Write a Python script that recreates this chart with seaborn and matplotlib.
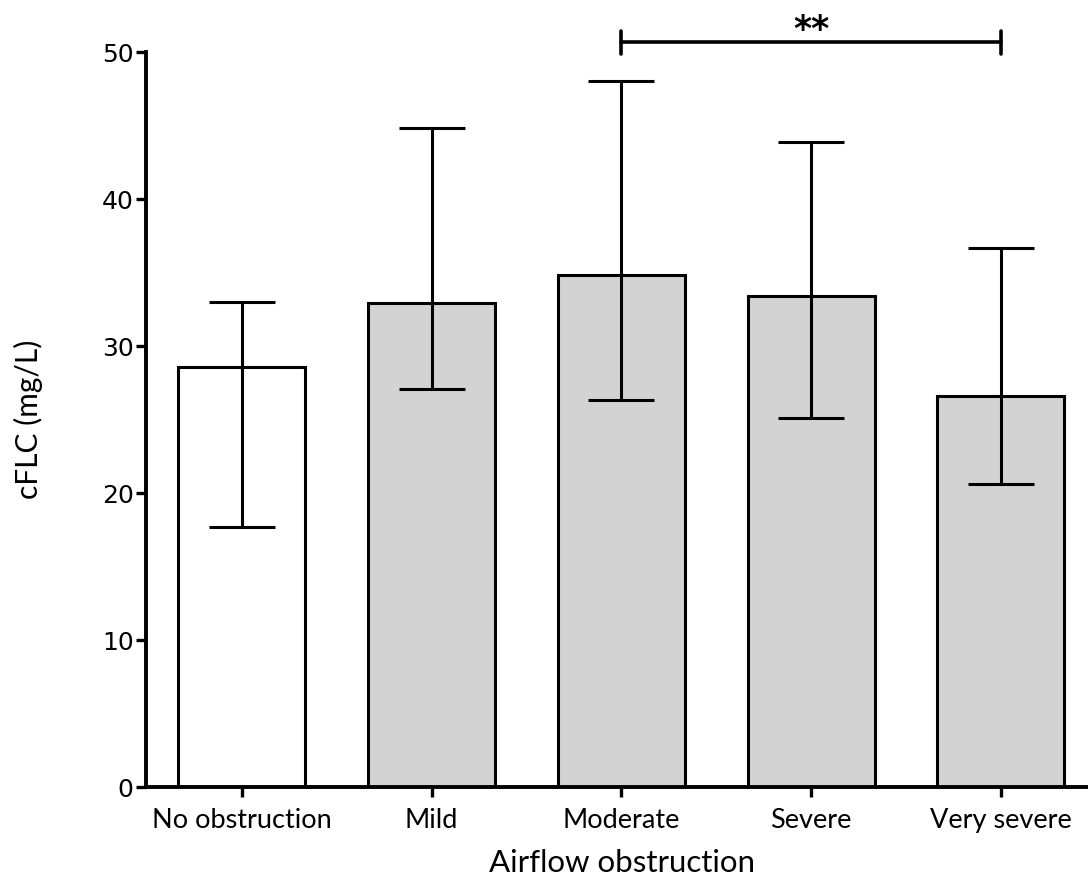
import matplotlib
matplotlib.use("Agg")
import matplotlib.pyplot as plt
import seaborn as sns
import pandas as pd
import numpy as np

# values
groups = ["No obstruction", "Mild", "Moderate", "Severe", "Very severe"]
cflc_mean = [28.6, 32.9, 34.8, 33.4, 26.6]
cflc_upper = [33.0, 44.8, 48.0, 43.9, 36.7]
cflc_lower = [17.7, 27.1, 26.3, 25.1, 20.6]
bar_colors = ["white", "lightgray", "lightgray", "lightgray", "lightgray"]

df = pd.DataFrame({"group": groups, "cflc": cflc_mean})

sns.set_style("ticks")
plt.rcParams["font.family"] = ["Lato", "DejaVu Sans"]
plt.rcParams["text.color"] = "black"
plt.rcParams["axes.labelcolor"] = "black"

fig = plt.figure(figsize=(10.88, 8.82), dpi=100)
ax = fig.add_axes([0.1342, 0.1077, 0.866, 0.8333])

sns.barplot(data=df, x="group", y="cflc", hue="group", palette=bar_colors,
            legend=False, width=0.67, edgecolor="black", linewidth=2.2,
            errorbar=None, ax=ax, zorder=2)

# asymmetric error bars
pos = np.arange(len(groups))
means = np.array(cflc_mean)
yerr = [means - np.array(cflc_lower), np.array(cflc_upper) - means]
ax.errorbar(pos, means, yerr=yerr, fmt="none", ecolor="black",
            elinewidth=2.2, capsize=24, capthick=2.2, zorder=3)

ax.set_ylim(0, 50)
ax.set_xlim(-0.505, 4.46)
ax.set_yticks([0, 10, 20, 30, 40, 50])
ax.tick_params(axis="y", labelsize=18, width=2.4, length=7, color="black",
               labelcolor="black", pad=2)
ax.tick_params(axis="x", labelsize=19.5, width=2.4, length=7, color="black",
               labelcolor="black", pad=8)
for lab in ax.get_yticklabels():
    lab.set_fontfamily("DejaVu Sans")

for side in ["top", "right"]:
    ax.spines[side].set_visible(False)
for side in ["left", "bottom"]:
    ax.spines[side].set_linewidth(2.8)
    ax.spines[side].set_color("black")

ax.set_xlabel("Airflow obstruction", fontsize=22.5, va="baseline")
ax.xaxis.set_label_coords(0.505, -0.116)
ax.set_ylabel("cFLC (mg/L)", fontsize=21.5, labelpad=42)

# significance bracket Moderate vs Very severe
yb = 50.68
ax.plot([2, 4], [yb, yb], color="black", lw=2.6, clip_on=False)
ax.plot([2, 2], [yb - 0.78, yb + 0.78], color="black", lw=2.6, clip_on=False)
ax.plot([4, 4], [yb - 0.78, yb + 0.78], color="black", lw=2.6, clip_on=False)
ax.text(3, 50.8, "**", ha="center", va="baseline", fontsize=25,
        fontweight="bold", family="DejaVu Sans")

fig.savefig("out.png", dpi=100)
